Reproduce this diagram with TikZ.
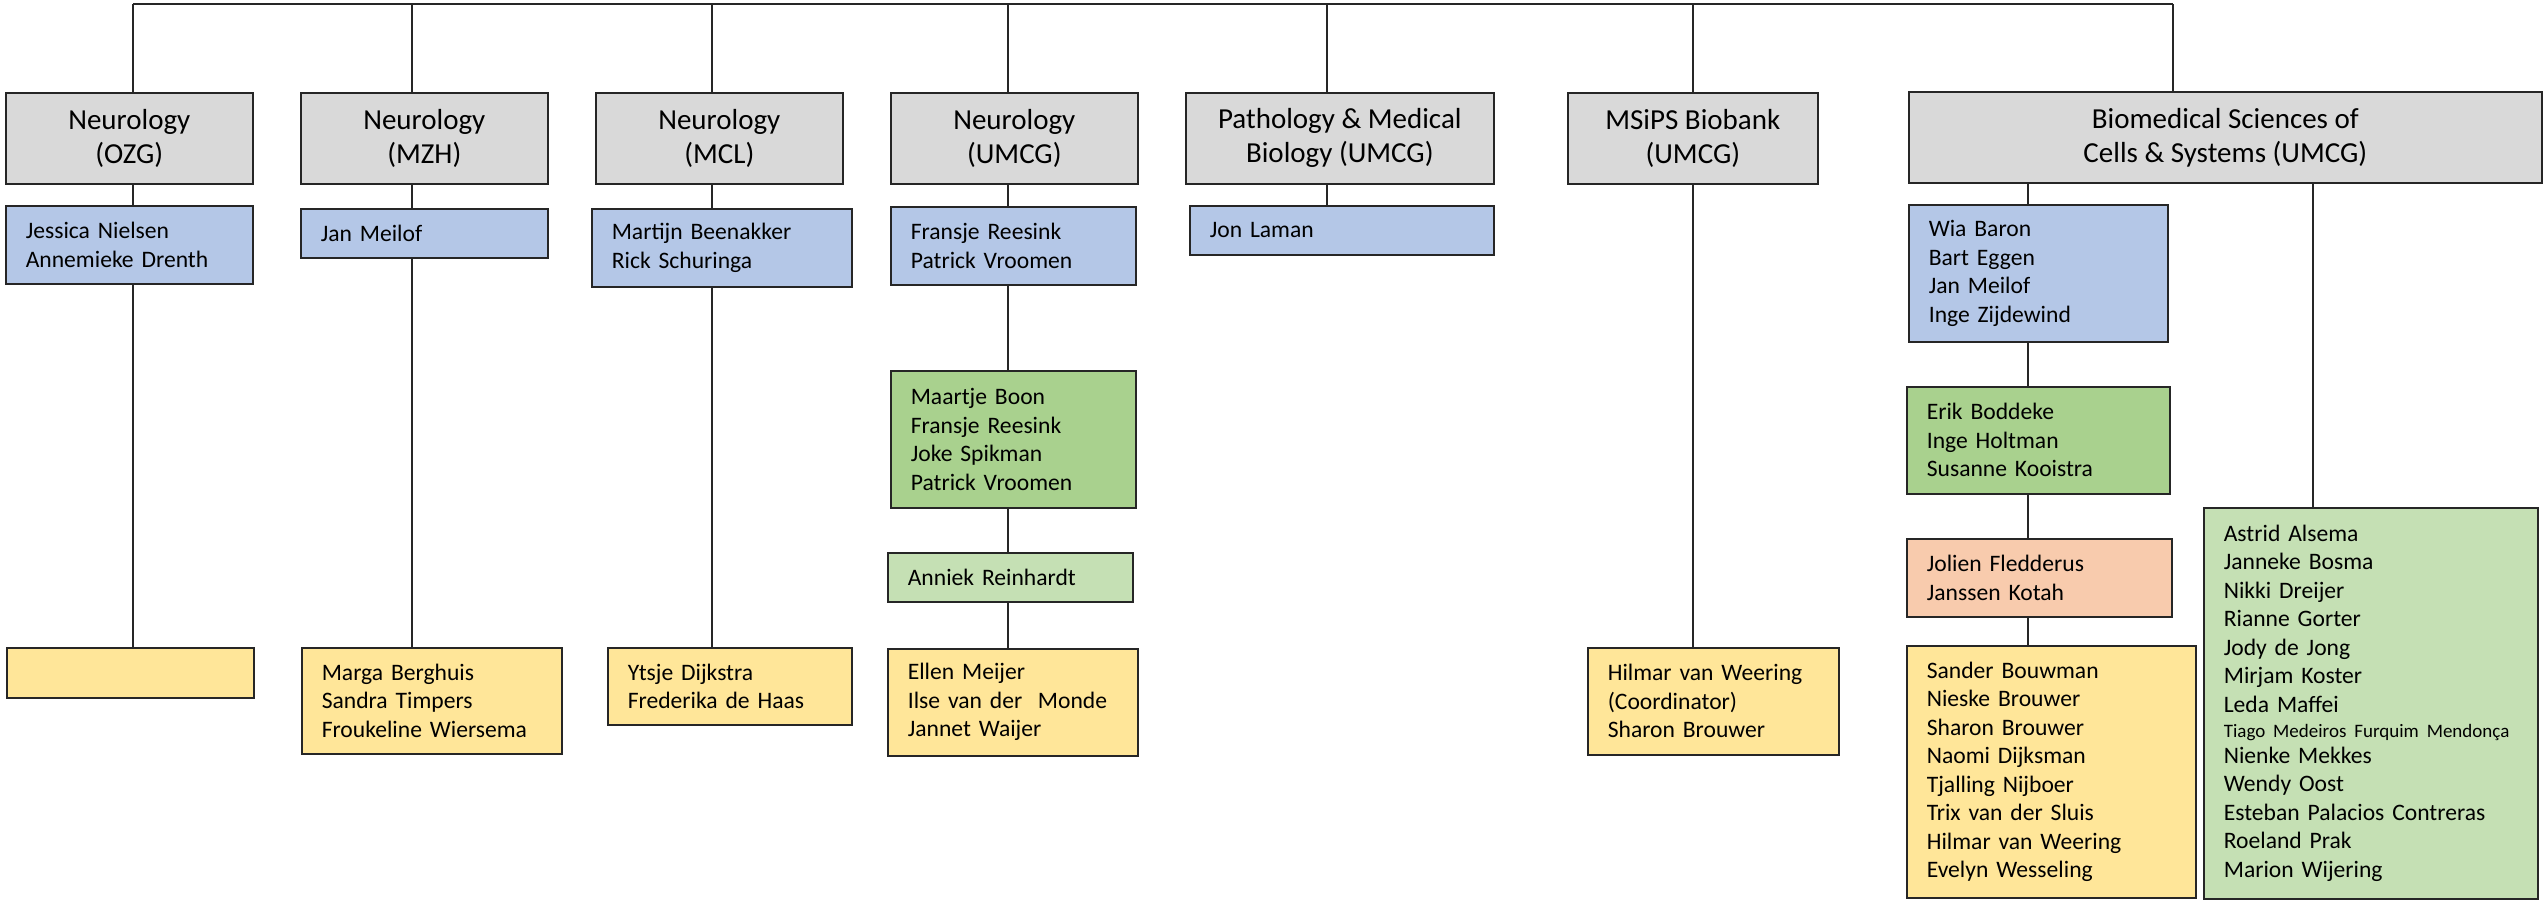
\documentclass[tikz,border=0pt]{standalone}
\usepackage{fontspec}
\setmainfont{Carlito}

\definecolor{headgray}{HTML}{D9D9D9}
\definecolor{leadblue}{HTML}{B4C7E7}
\definecolor{teamgreen}{HTML}{A9D18E}
\definecolor{palegreen}{HTML}{C5E0B4}
\definecolor{nurseyellow}{HTML}{FFE699}
\definecolor{salmonpink}{HTML}{F8CBAD}

\begin{document}
\begin{tikzpicture}[x=1pt,y=-1pt]

        \useasboundingbox (0,0) rectangle (2547,902);

        \begin{scope}[every node/.style={draw=black!85,line width=1.6pt,fill=headgray,anchor=north west,
            inner sep=0pt,minimum height=91pt,align=center,font=\fontsize{29}{34}\selectfont}]
          \node[minimum width=247pt] (ozg)    at (5,92)    {Neurology\\(OZG)};
          \node[minimum width=247pt] (mzh)    at (300,92)  {Neurology\\(MZH)};
          \node[minimum width=247pt] (mcl)    at (595,92)  {Neurology\\(MCL)};
          \node[minimum width=247pt] (umcg)   at (890,92)  {Neurology\\(UMCG)};
          \node[minimum width=308pt] (path)   at (1185,92) {Pathology \& Medical\\Biology (UMCG)};
          \node[minimum width=250pt] (msips)  at (1567,92) {MSiPS Biobank\\(UMCG)};
          \node[minimum width=633pt] (biomed) at (1908,91) {Biomedical Sciences of\\Cells \& Systems (UMCG)};
        \end{scope}

        \begin{scope}[every node/.style={draw=black!85,line width=1.6pt,anchor=north west,
            inner xsep=20pt,inner ysep=0pt,align=left,font=\fontsize{23.6}{28.5}\selectfont}]
          \node[fill=leadblue,minimum width=247pt,minimum height=78pt,text width=207pt] (ozgs)   at (5,205)    {Jessica Nielsen\\Annemieke Drenth};
          \node[fill=leadblue,minimum width=247pt,minimum height=49pt,text width=207pt] (mzhs)   at (300,208)  {Jan Meilof};
          \node[fill=leadblue,minimum width=260pt,minimum height=78pt,text width=220pt] (mcls)   at (591,208)  {Martijn Beenakker\\Rick Schuringa};
          \node[fill=leadblue,minimum width=245pt,minimum height=78pt,text width=205pt] (umcgs)  at (890,206)  {Fransje Reesink\\Patrick Vroomen};
          \node[fill=leadblue,minimum width=304pt,minimum height=49pt,text width=264pt] (paths)  at (1189,205) {Jon Laman};
          \node[fill=leadblue,minimum width=259pt,minimum height=137pt,text width=219pt] (bms)   at (1908,204) {Wia Baron\\Bart Eggen\\Jan Meilof\\Inge Zijdewind};

          \node[fill=teamgreen,minimum width=245pt,minimum height=137pt,text width=205pt] (umcgt) at (890,370)  {Maartje Boon\\Fransje Reesink\\Joke Spikman\\Patrick Vroomen};
          \node[fill=palegreen,minimum width=245pt,minimum height=49pt,text width=205pt] (umcgr)  at (887,552)  {Anniek Reinhardt};
          \node[fill=teamgreen,minimum width=263pt,minimum height=107pt,text width=223pt] (bmt)   at (1906,386) {Erik Boddeke\\Inge Holtman\\Susanne Kooistra};
          \node[fill=salmonpink,minimum width=265pt,minimum height=78pt,text width=225pt] (bmj)   at (1906,538) {Jolien Fledderus\\Janssen Kotah};

          \node[fill=nurseyellow,minimum width=247pt,minimum height=50pt,text width=207pt] (ozgn)  at (6,647)    {};
          \node[fill=nurseyellow,minimum width=260pt,minimum height=106pt,text width=220pt] (mzhn) at (301,647)  {Marga Berghuis\\Sandra Timpers\\Froukeline Wiersema};
          \node[fill=nurseyellow,minimum width=244pt,minimum height=77pt,text width=204pt] (mcln)  at (607,647)  {Ytsje Dijkstra\\Frederika de Haas};
          \node[fill=nurseyellow,minimum width=250pt,minimum height=107pt,text width=210pt] (umcgn) at (887,648) {Ellen Meijer\\Ilse van der\ \ Monde\\Jannet Waijer};
          \node[fill=nurseyellow,minimum width=251pt,minimum height=107pt,text width=211pt] (msn)  at (1587,647) {Hilmar van Weering\\(Coordinator)\\Sharon Brouwer};
          \node[fill=nurseyellow,minimum width=289pt,minimum height=252pt,text width=249pt] (bmn)  at (1906,645) {Sander Bouwman\\Nieske Brouwer\\Sharon Brouwer\\Naomi Dijksman\\Tjalling Nijboer\\Trix van der Sluis\\Hilmar van Weering\\Evelyn Wesseling};

          \node[fill=palegreen,minimum width=334pt,minimum height=391pt,text width=294pt] (bmr)   at (2203,507) {Astrid Alsema\\Janneke Bosma\\Nikki Dreijer\\Rianne Gorter\\Jody de Jong\\Mirjam Koster\\Leda Maffei\\[-3pt]{\fontsize{19}{24}\selectfont Tiago Medeiros Furquim Mendonça}\\[-3pt]Nienke Mekkes\\Wendy Oost\\Esteban Palacios Contreras\\Roeland Prak\\Marion Wijering};
        \end{scope}

        \coordinate (ozgc)   at (133,4);
        \coordinate (mzhc)   at (412,4);
        \coordinate (mclc)   at (712,4);
        \coordinate (umcgc)  at (1008,4);
        \coordinate (pathc)  at (1327,4);
        \coordinate (msipsc) at (1693,4);
        \coordinate (biomedc) at (2173,4);
        \coordinate (bmlc)   at (2028,4);
        \coordinate (bmrc)   at (2313,4);

        \begin{scope}[every path/.style={draw=black!85,line width=1.1pt}]
          \path (ozgc) -- (biomedc);
          \path (ozgc)    -- (ozgc |- ozg.north);
          \path (mzhc)    -- (mzhc |- mzh.north);
          \path (mclc)    -- (mclc |- mcl.north);
          \path (umcgc)   -- (umcgc |- umcg.north);
          \path (pathc)   -- (pathc |- path.north);
          \path (msipsc)  -- (msipsc |- msips.north);
          \path (biomedc) -- (biomedc |- biomed.north);

          \path (ozg.south -| ozgc)   -- (ozgs.north -| ozgc);
          \path (ozgs.south -| ozgc)  -- (ozgn.north -| ozgc);
          \path (mzh.south -| mzhc)   -- (mzhs.north -| mzhc);
          \path (mzhs.south -| mzhc)  -- (mzhn.north -| mzhc);
          \path (mcl.south -| mclc)   -- (mcls.north -| mclc);
          \path (mcls.south -| mclc)  -- (mcln.north -| mclc);
          \path (umcg.south -| umcgc)  -- (umcgs.north -| umcgc);
          \path (umcgs.south -| umcgc) -- (umcgt.north -| umcgc);
          \path (umcgt.south -| umcgc) -- (umcgr.north -| umcgc);
          \path (umcgr.south -| umcgc) -- (umcgn.north -| umcgc);
          \path (path.south -| pathc)  -- (paths.north -| pathc);
          \path (msips.south -| msipsc) -- (msn.north -| msipsc);
          \path (biomed.south -| bmlc) -- (bms.north -| bmlc);
          \path (bms.south -| bmlc)    -- (bmt.north -| bmlc);
          \path (bmt.south -| bmlc)    -- (bmj.north -| bmlc);
          \path (bmj.south -| bmlc)    -- (bmn.north -| bmlc);
          \path (biomed.south -| bmrc) -- (bmr.north -| bmrc);
        \end{scope}

      \end{tikzpicture}
\end{document}
